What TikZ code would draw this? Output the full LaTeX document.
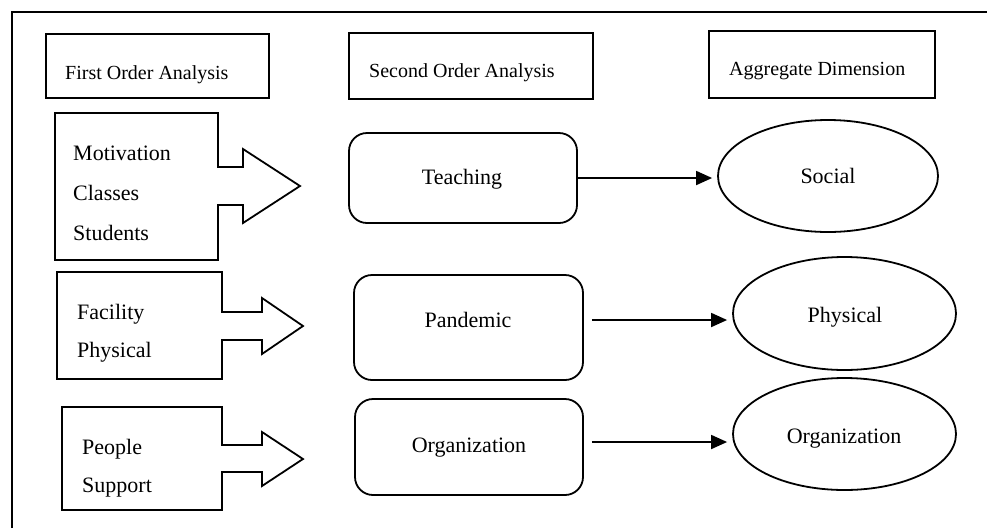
\documentclass[tikz,border=0pt]{standalone}
\usepackage{fontspec}
\setmainfont{Liberation Serif}
\usetikzlibrary{arrows.meta,shapes.geometric,calc}
\begin{document}
\begin{tikzpicture}[x=1pt,y=-1pt,
  lw/.style={line width=1.8pt},
  hbox/.style={draw,lw,rectangle,inner sep=0pt},
  rbox/.style={draw,lw,rectangle,rounded corners=18pt,inner sep=0pt},
  ell/.style={draw,lw,ellipse,inner sep=0pt},
  htext/.style={inner sep=0pt,font=\fontsize{20}{24}\selectfont},
  btext/.style={inner sep=0pt,font=\fontsize{22}{26}\selectfont},
  conn/.style={line width=1.8pt,-{Triangle[length=16pt,width=14pt]},shorten >=5pt}]
\useasboundingbox (0,0) rectangle (987,528);
% frame
\coordinate (tl) at (12,12);
\coordinate (tr) at (987,12);
\coordinate (bl) at (12,528);
\draw[line width=2pt] (bl) -- (tl) -- (tr);
% headers
\node[hbox,minimum width=223pt,minimum height=64pt] (fo) at (157.5,66) {};
\node[htext,anchor=base west] (fot) at (65,79) {First Order Analysis};
\node[hbox,minimum width=244pt,minimum height=66pt] (so) at (471,66) {};
\node[htext,anchor=base west] (sot) at (369,77) {Second Order Analysis};
\node[hbox,minimum width=226pt,minimum height=67pt] (ad) at (822,64.5) {};
\node[htext,anchor=base west] (adt) at (729,75) {Aggregate Dimension};
% block arrows
\draw[lw] (55,113) -- (218,113) -- (218,167) -- (243,167) -- (243,149) -- (300,186)
  -- (243,223) -- (243,205) -- (218,205) -- (218,260) -- (55,260) -- cycle;
\draw[lw] (57,272) -- (222,272) -- (222,312) -- (262,312) -- (262,298) -- (303,326)
  -- (262,354) -- (262,340) -- (222,340) -- (222,379) -- (57,379) -- cycle;
\draw[lw] (62,407) -- (222,407) -- (222,445) -- (262,445) -- (262,432) -- (303,459)
  -- (262,486) -- (262,472) -- (222,472) -- (222,510) -- (62,510) -- cycle;
\node[btext,anchor=base west] (m1) at (73,160) {Motivation};
\node[btext,anchor=base west] (m2) at (73,200) {Classes};
\node[btext,anchor=base west] (m3) at (73,240) {Students};
\node[btext,anchor=base west] (f1) at (77,319) {Facility};
\node[btext,anchor=base west] (f2) at (77,357) {Physical};
\node[btext,anchor=base west] (p1) at (82,454) {People};
\node[btext,anchor=base west] (p2) at (82,492) {Support};
% second order
\node[rbox,minimum width=228pt,minimum height=90pt] (teach) at (463,178) {};
\node[btext,anchor=base] (teacht) at (462,184) {Teaching};
\node[rbox,minimum width=229pt,minimum height=105pt] (pand) at (468.5,327.5) {};
\node[btext,anchor=base] (pandt) at (468,327) {Pandemic};
\node[rbox,minimum width=228pt,minimum height=96pt] (orgb) at (469,447) {};
\node[btext,anchor=base] (orgbt) at (469,452) {Organization};
% aggregate
\node[ell,minimum width=220pt,minimum height=112pt] (social) at (828,176) {};
\node[btext,anchor=base] (socialt) at (828,183) {Social};
\node[ell,minimum width=223pt,minimum height=113pt] (phys) at (844.5,313.5) {};
\node[btext,anchor=base] (physt) at (845,322) {Physical};
\node[ell,minimum width=223pt,minimum height=112pt] (orge) at (844.5,434) {};
\node[btext,anchor=base] (orget) at (844,443) {Organization};
% connectors
\draw[conn] (teach.east) -- (teach.east -| social.west);
\draw[conn,shorten <=8pt] ([yshift=7.5pt]pand.east) -- ([yshift=7.5pt]pand.east -| phys.west);
\draw[conn,shorten <=8pt] ([yshift=5pt]orgb.east) -- ([yshift=5pt]orgb.east -| orge.west);
\end{tikzpicture}
\end{document}
